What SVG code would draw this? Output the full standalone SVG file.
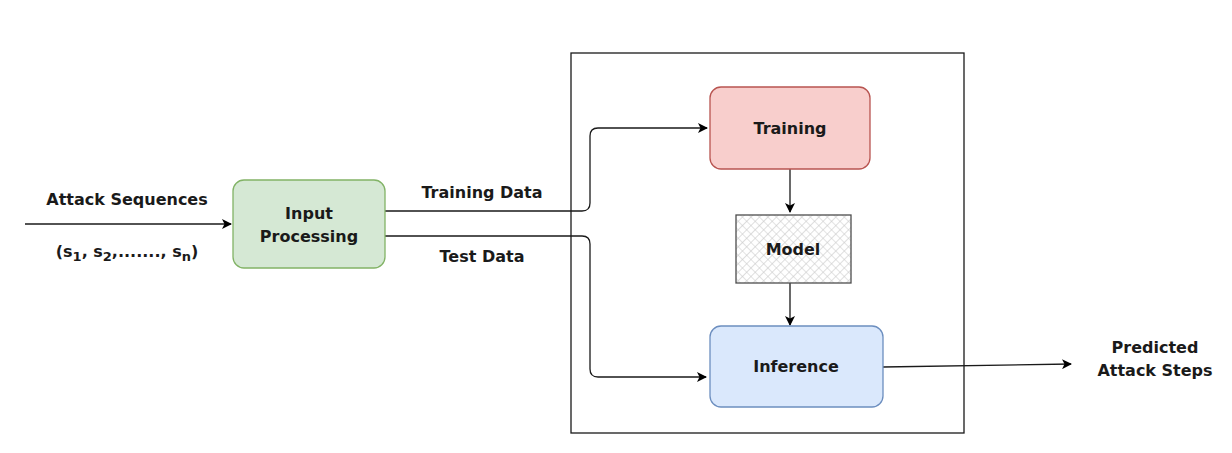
<svg xmlns="http://www.w3.org/2000/svg" width="1232" height="453" viewBox="0 0 1232 453">
<defs>
<pattern id="hatch" width="6" height="6" patternUnits="userSpaceOnUse" patternTransform="rotate(45)">
<rect width="6" height="6" fill="#ffffff"/>
<path d="M0 0 H6 M0 0 V6" stroke="#c8c8c8" stroke-width="1.2"/>
</pattern>
<marker id="arr" viewBox="0 0 10 10" refX="9" refY="5" markerWidth="10" markerHeight="10" markerUnits="userSpaceOnUse" orient="auto">
<path d="M0 0 L10 5 L0 10 L2.5 5 Z" fill="#000"/>
</marker>
</defs>
<style>
text{font-family:"DejaVu Sans",Verdana,sans-serif;font-weight:bold;font-size:16px;fill:#1a1a1a;text-anchor:middle}
.c{fill:none;stroke:#1a1a1a;stroke-width:1.3}
</style>
<rect width="1232" height="453" fill="#ffffff"/>
<g id="container"><rect x="571" y="53" width="393" height="380" fill="none" stroke="#1a1a1a" stroke-width="1.3"/></g>
<g id="connectors">
<path class="c" d="M25 224 H231" marker-end="url(#arr)"/>
<path class="c" d="M385 211 H582 Q590 211 590 203 V136 Q590 128 598 128 H707" marker-end="url(#arr)"/>
<path class="c" d="M385 236 H582 Q590 236 590 244 V369 Q590 377 598 377 H706" marker-end="url(#arr)"/>
<path class="c" d="M790 169 V212" marker-end="url(#arr)"/>
<path class="c" d="M790 283 V325" marker-end="url(#arr)"/>
<path class="c" d="M883 367 L1071 364" marker-end="url(#arr)"/>
</g>
<g id="labels">
<text x="127" y="205">Attack Sequences</text>
<text x="127" y="257" font-size="15">(s<tspan font-size="13" dy="4">1</tspan><tspan dy="-4">, s</tspan><tspan font-size="13" dy="4">2</tspan><tspan dy="-4">,......., s</tspan><tspan font-size="13" dy="4">n</tspan><tspan dy="-4">)</tspan></text>
<text x="482" y="198">Training Data</text>
<text x="482" y="262">Test Data</text>
</g>
<g id="input"><rect x="233" y="180" width="152" height="88" rx="11" fill="#d5e8d4" stroke="#82b366" stroke-width="1.3"/>
<text x="309" y="219">Input</text><text x="309" y="242">Processing</text></g>
<g id="training"><rect x="710" y="87" width="160" height="82" rx="11" fill="#f8cecc" stroke="#b85450" stroke-width="1.3"/>
<text x="790" y="134">Training</text></g>
<g id="model"><rect x="736" y="215" width="115" height="68" fill="url(#hatch)" stroke="#4d4d4d" stroke-width="1.3"/>
<text x="793" y="255">Model</text></g>
<g id="inference"><rect x="710" y="326" width="173" height="81" rx="11" fill="#dae8fc" stroke="#6c8ebf" stroke-width="1.3"/>
<text x="796" y="372">Inference</text></g>
<g id="output"><text x="1155" y="353">Predicted</text><text x="1155" y="376">Attack Steps</text></g>
</svg>
